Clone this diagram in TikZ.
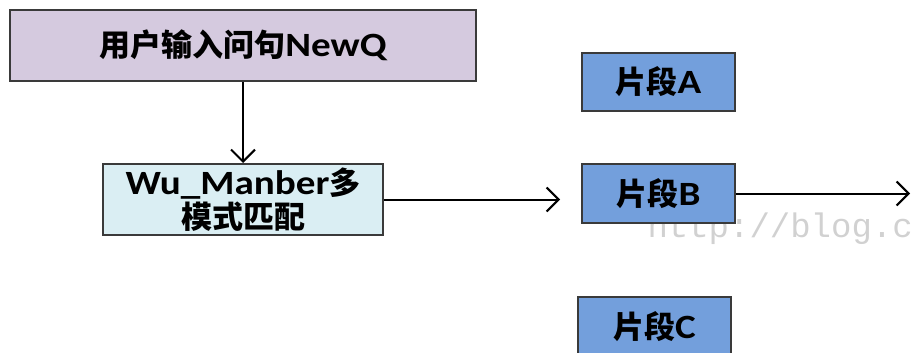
\documentclass[tikz,border=0pt]{standalone}
\usepackage{fontspec}
\setmainfont{Carlito}
\newfontfamily\cjk{Noto Sans CJK SC}
\newfontfamily\lat{Carlito}[FakeStretch=1.15]
\newfontfamily\wmfont{Liberation Mono}
\usetikzlibrary{arrows.meta}
\definecolor{boxline}{HTML}{3A3A3A}
\definecolor{lav}{HTML}{D5CADF}
\definecolor{cyanl}{HTML}{DAEEF3}
\definecolor{frag}{HTML}{739FDC}
\newcommand\zh[1]{{\cjk\fontsize{31}{36}\selectfont #1}}
\newcommand\lt[1]{{\lat\fontsize{34}{36}\selectfont #1}}
\begin{document}
\begin{tikzpicture}[x=1pt,y=-1pt,
  box/.style={draw=boxline,line width=2pt,inner sep=0pt,align=center,
    font=\bfseries\fontsize{27}{36}\selectfont},
  conn/.style={line width=2pt,-{Straight Barb[length=12pt,width=24pt,line width=2pt]}}]
\useasboundingbox (0,0) rectangle (911,353);
\clip (0,0) rectangle (911,353);
\node[text=black!18,font=\wmfont\fontsize{34}{34}\selectfont,anchor=west] (wm) at (644,229) {http://blog.c};
\node[box,fill=lav,minimum width=466pt,minimum height=71pt] (q) at (243,45.5) {\zh{用户输入问句}\lt{NewQ}};
\node[box,fill=cyanl,minimum width=280pt,minimum height=71pt] (wu) at (243,199.5) {\lt{Wu\_Manber}\zh{多}\\[-2pt]\zh{模式匹配}};
\node[box,fill=frag,minimum width=153pt,minimum height=58pt] (a) at (658.5,82) {\zh{片段}\lt{A}};
\node[box,fill=frag,minimum width=153pt,minimum height=59pt] (b) at (658.5,193.5) {\zh{片段}\lt{B}};
\node[box,fill=frag,minimum width=153pt,minimum height=60pt] (c) at (654.5,327) {\zh{片段}\lt{C}};
\coordinate (e1) at (560,199.5);
\coordinate (e2) at (910,193.5);
\draw[conn] (q) -- (wu);
\draw[conn] (wu) -- (e1);
\draw[conn] (b) -- (e2);
\end{tikzpicture}
\end{document}
